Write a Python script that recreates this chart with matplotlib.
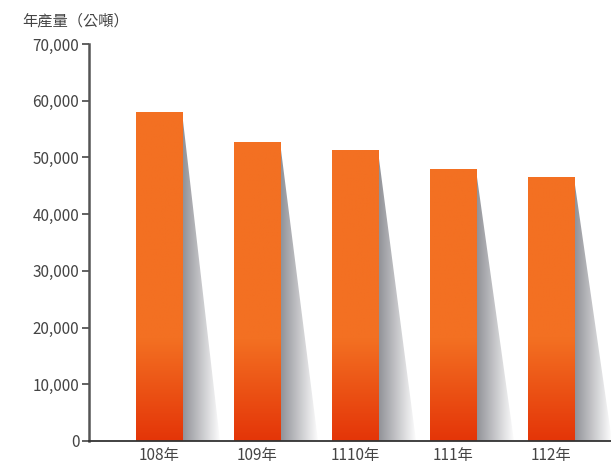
import numpy as np
import matplotlib
matplotlib.use("Agg")
import matplotlib.pyplot as plt
from matplotlib.patches import Polygon
from matplotlib.colors import to_rgb

plt.rcParams['font.family'] = ['Noto Sans CJK TC', 'DejaVu Sans']

years = ['108年', '109年', '1110年', '111年', '112年']
production = [58000, 52700, 51200, 47800, 46400]

fig = plt.figure(figsize=(6.11, 4.67), dpi=100)
ax = fig.add_axes([0.1457, 0.0557, 0.8543, 0.8501])

bar_w = 0.47
shadow_w = 0.39
top_col = np.array(to_rgb('#F37022'))
bot_col = np.array(to_rgb('#E43508'))

for i, v in enumerate(production):
    x0 = i - bar_w / 2
    x1 = i + bar_w / 2
    # vertical gradient: red at the bottom, orange from ~18,000 up
    ys = np.linspace(v, 0, 200)
    t = np.clip(ys / 18000, 0, 1)[:, None]
    img = (bot_col * (1 - t) + top_col * t)[:, None, :]
    ax.imshow(img, extent=[x0, x1, 0, v], aspect='auto', zorder=2,
              interpolation='bilinear')

    # shadow triangle with horizontal grey-white gradient
    xs = np.linspace(0, 1, 100)
    g0 = np.array(to_rgb('#8F9096'))
    g1 = np.array([1.0, 1.0, 1.0])
    simg = (g0 * (1 - xs[:, None]) + g1 * xs[:, None])[None, :, :]
    tri = Polygon([(x1, v), (x1, 0), (x1 + shadow_w, 0)], closed=True,
                  facecolor='none', edgecolor='none', transform=ax.transData)
    ax.add_patch(tri)
    im = ax.imshow(simg, extent=[x1, x1 + shadow_w, 0, v], aspect='auto',
                   zorder=1, interpolation='bilinear')
    im.set_clip_path(tri)

ax.set_xlim(-0.714, 4.612)
ax.set_ylim(0, 70000)
ax.set_xticks(range(len(years)))
ax.set_xticklabels(years)
ax.set_yticks(np.arange(0, 70001, 10000))
ax.set_yticklabels([f'{v:,}' for v in range(0, 70001, 10000)])

for s in ['top', 'right']:
    ax.spines[s].set_visible(False)
ax.spines['left'].set_color('#555555')
ax.spines['left'].set_linewidth(1.8)
ax.spines['bottom'].set_color('#333333')
ax.spines['bottom'].set_linewidth(1.3)
ax.tick_params(axis='y', length=5, width=1.3, color='#555555',
               labelsize=11, labelcolor='#444444', pad=2)
ax.tick_params(axis='x', length=0, labelsize=11, labelcolor='#444444', pad=4)

fig.text(0.036, 0.955, '年產量（公噸）', fontsize=11, color='#444444',
         va='center', ha='left')

fig.savefig('out.png', dpi=100)
